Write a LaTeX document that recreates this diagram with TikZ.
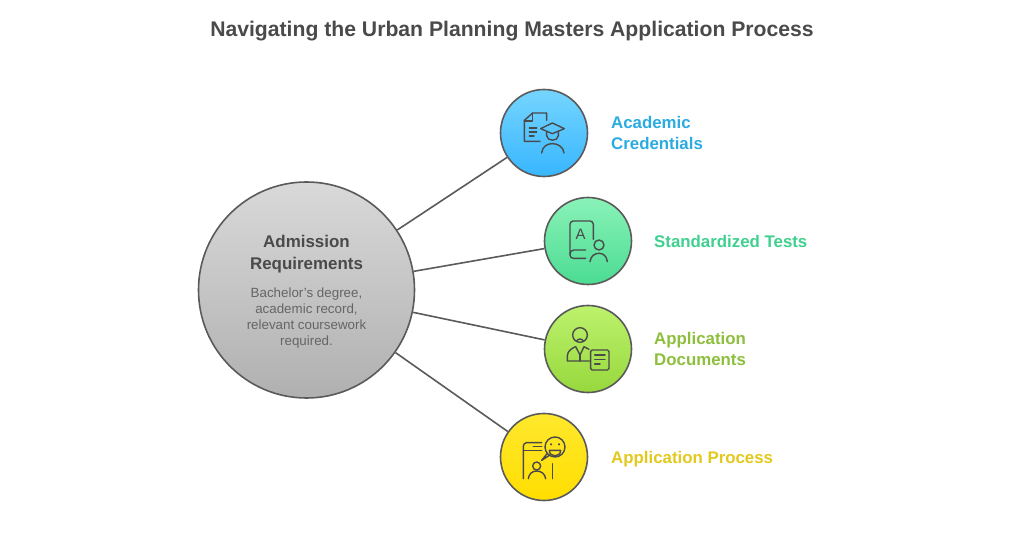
\documentclass[tikz,border=0pt]{standalone}
\usepackage{fontspec}
\setmainfont{Liberation Sans}
\definecolor{inkgrey}{HTML}{4A4A4A}
\definecolor{linegrey}{HTML}{5A5A5A}
\definecolor{textblue}{HTML}{2AABE2}
\definecolor{textgreen}{HTML}{3FCF8E}
\definecolor{textlime}{HTML}{8DBF3C}
\definecolor{textyellow}{HTML}{E3C81E}
\definecolor{HubTop}{HTML}{D9D9D9}
\definecolor{HubBottom}{HTML}{B0B0B0}
\tikzset{
  ball/.style={circle,draw=linegrey,line width=1.6bp,inner sep=0pt,minimum size=87bp},
  hub/.style={ball,minimum size=216bp,top color=HubTop,bottom color=HubBottom},
  balltext/.style={align=left,anchor=west,font=\fontsize{16.9}{21}\selectfont\bfseries,inner sep=0pt},
  icon/.style={draw=inkgrey,line width=1.4bp,line cap=round,line join=round,x=0.3333bp,y=-0.3333bp},
  link/.style={draw=linegrey,line width=1.6bp},
}
\begin{document}
\begin{tikzpicture}[>=latex,line join=bevel,]
\useasboundingbox (0bp,0bp) rectangle (1024bp,536bp);
%%
\node (node_title) at (512.0bp,505.0bp) [text=inkgrey,font=\fontsize{21.25}{25}\selectfont\bfseries] {Navigating the Urban Planning Masters Application Process};
  \node (node_hub) at (306.5bp,246.0bp) [hub] {};
  \node (node_0) at (544.0bp,403.0bp) [ball,top color={rgb,255:red,117;green,213;blue,255},bottom color={rgb,255:red,56;green,182;blue,255}] {};
  \node (node_1) at (588.0bp,295.0bp) [ball,top color={rgb,255:red,138;green,242;blue,184},bottom color={rgb,255:red,75;green,220;blue,146}] {};
  \node (node_2) at (588.0bp,187.0bp) [ball,top color={rgb,255:red,189;green,242;blue,109},bottom color={rgb,255:red,151;green,216;blue,61}] {};
  \node (node_3) at (544.0bp,79.0bp) [ball,top color={rgb,255:red,255;green,232;blue,46},bottom color={rgb,255:red,255;green,222;blue,0}] {};
  \draw [link] (node_hub) -- (node_0);
  \draw [link] (node_hub) -- (node_1);
  \draw [link] (node_hub) -- (node_2);
  \draw [link] (node_hub) -- (node_3);
%
\node (node_head) at (306.5bp,281.5bp) [text=inkgrey,align=center,font=\fontsize{17}{22}\selectfont\bfseries] {Admission\\Requirements};
  \node (node_body) at (306.5bp,218.0bp) [text=inkgrey!85,align=center,font=\fontsize{13.4}{16.3}\selectfont] {Bachelor's degree,\\academic record,\\relevant coursework\\required.};
  \node (node_label0) at (611.0bp,403.0bp) [balltext,text=textblue] {Academic\\Credentials};
  \node (node_label1) at (654.0bp,295.0bp) [balltext,text=textgreen] {Standardized Tests};
  \node (node_label2) at (654.0bp,187.0bp) [balltext,text=textlime] {Application\\Documents};
  \node (node_label3) at (611.0bp,77.0bp) [balltext,text=textyellow] {Application Process};
%
% credentials icon
\begin{scope}[shift={(node_0.center)},icon]
  \draw (-12,25) -- (-59,25) -- (-59,-38) -- (-34,-60) -- (8,-60) -- (8,-38);
  \draw (-34,-60) -- (-34,-36) -- (-59,-36);
  \draw (-44,-15) -- (-22,-15) (-44,-3) -- (-22,-3) (-44,9) -- (-30,9);
  \draw (-10,-13) -- (25,-30) -- (61,-13) -- (25,2) -- cycle;
  \draw (8,-3) -- (8,8) .. controls (8,26) and (43,26) .. (43,8) -- (43,-3);
  \draw (-7,60) .. controls (-5,40) and (10,32) .. (25,32) .. controls (40,32) and (58,40) .. (60,60);
\end{scope}
% tests icon
\begin{scope}[shift={(node_1.center)},icon]
  \draw [rounded corners=3.3bp] (16,-5) -- (16,-60) -- (-54,-60) -- (-54,52) -- (-7,52);
  \draw (-54,40) .. controls (-54,32) and (-50,27) .. (-42,27) -- (-7,27);
  \node (node_letter) at (-22,-20) [text=inkgrey,inner sep=0pt,font=\fontsize{15}{15}\selectfont] {A};
  \draw (33,12) circle (15);
  \draw (6,62) .. controls (8,45) and (20,37) .. (33,37) .. controls (46,37) and (56,45) .. (58,62);
\end{scope}
% documents icon
\begin{scope}[shift={(node_2.center)},icon]
  \draw (-24,-42) circle (22);
  \draw (-34,-24) .. controls (-30,-32) and (-18,-32) .. (-14,-24);
  \draw (4,36) -- (-62,36) -- (-62,20) .. controls (-62,5) and (-45,-4) .. (-37,-7) -- (-24,18) -- (-12,-7) -- (3,1);
  \draw (-24,18) -- (-24,36);
  \draw [rounded corners=1.5bp] (8,3) rectangle (63,63);
  \draw (20,18) -- (51,18) (20,31) -- (51,31) (20,45) -- (36,45);
\end{scope}
% process icon
\begin{scope}[shift={(node_3.center)},icon]
  \draw [rounded corners=3.3bp] (-62,65) -- (-62,-43) -- (-7,-43);
  \draw (-62,-20) -- (-7,-20) (-32,-32) -- (-7,-32);
  \draw (25,20) -- (25,65);
  \draw (-22,27) circle (12);
  \draw (-47,65) .. controls (-45,50) and (-35,42) .. (-22,42) .. controls (-9,42) and (3,50) .. (5,65);
  \draw (33,-30) circle (30);
  \draw (10,-11) -- (-7,10) -- (16,-5);
  \fill [inkgrey] (21,-38) circle (3.5) (45,-38) circle (3.5);
  \draw (16,-20) .. controls (16,2) and (50,2) .. (50,-20) -- cycle;
\end{scope}
%
\end{tikzpicture}
\end{document}
